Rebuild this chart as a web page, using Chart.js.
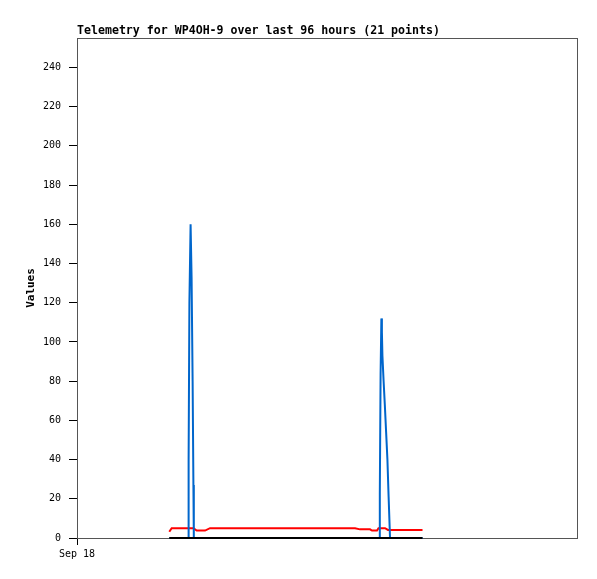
<!DOCTYPE html>
<html lang="en">
<head>
    <meta charset="UTF-8"/>
    <title>Telemetry for WP4OH-9</title>
    <script src="https://cdn.jsdelivr.net/npm/chart.js"></script>
    <style>
        html, body {
            margin: 0;
            padding: 0;
            background-color: #fff;
            width: 597px;
            height: 579px;
            overflow: hidden;
        }
        .chart-wrapper {
            position: relative;
            width: 597px;
            height: 579px;
        }
    </style>
</head>
<body>
<div class="chart-wrapper">
    <canvas id="telemetryChart"></canvas>
</div>

<script>
    // x values are hours since the start of Sep 18
    const chartTitle = 'Telemetry for WP4OH-9 over last 96 hours (21 points)';
    const yAxisLabel = 'Values';
    const xTickLabel = 'Sep 18';
    const yTickValues = [0, 20, 40, 60, 80, 100, 120, 140, 160, 180, 200, 220, 240];

    const blueHours = [17.76, 21.37, 21.43, 21.58, 21.81, 22.00, 22.20, 22.35, 22.43,
        58.06, 58.14, 58.29, 58.44, 58.54, 58.64, 58.85, 59.10, 59.35, 59.60, 59.83, 60.10, 66.34];
    const blueValues = [0, 0, 40, 120, 160, 133, 80, 27, 0,
        0, 23, 84, 112, 105, 93, 81, 68, 54, 40, 21, 0, 0];

    const redHours = [17.72, 18.18, 22.37, 22.98, 24.58, 25.54, 53.38, 54.34, 56.26, 56.64, 57.60, 57.89, 59.14, 59.71, 66.34];
    const redValues = [3.2, 5, 5, 3.8, 3.8, 5, 5, 4.4, 4.4, 3.8, 3.8, 5, 5, 4.1, 4.1];

    const blackHours = [17.72, 66.34];
    const blackValues = [0, 0];

    const toPoints = (xs, ys) => xs.map((x, i) => ({x: x, y: ys[i]}));

    const framePlugin = {
        id: 'frame',
        beforeDatasetsDraw(chart) {
            const {ctx, chartArea: a} = chart;
            ctx.save();
            ctx.strokeStyle = '#555';
            ctx.lineWidth = 1;
            ctx.strokeRect(a.left + 0.5, a.top + 0.5, a.right - a.left, a.bottom - a.top);
            ctx.restore();
        },
        afterDraw(chart) {
            const {ctx, chartArea: a} = chart;
            ctx.save();
            ctx.fillStyle = '#000';
            ctx.font = 'bold 11.6px "DejaVu Sans Mono", monospace';
            ctx.textAlign = 'left';
            ctx.textBaseline = 'alphabetic';
            ctx.fillText(chartTitle, a.left, 34);
            ctx.restore();
        }
    };

    const ctx = document.getElementById('telemetryChart').getContext('2d');

    const telemetryChart = new Chart(ctx, {
        type: 'line',
        data: {
            datasets: [
                {
                    label: 'black',
                    data: toPoints(blackHours, blackValues),
                    borderColor: '#000',
                    borderWidth: 2,
                    clip: false
                },
                {
                    label: 'blue',
                    data: toPoints(blueHours, blueValues),
                    borderColor: '#0066CC',
                    borderWidth: 2,
                    clip: false
                },
                {
                    label: 'red',
                    data: toPoints(redHours, redValues),
                    borderColor: '#FF0000',
                    borderWidth: 2,
                    clip: false
                }
            ]
        },
        options: {
            responsive: true,
            maintainAspectRatio: false,
            animation: false,
            layout: {
                padding: {top: 38, right: 20, bottom: 0, left: 0}
            },
            elements: {
                point: {radius: 0},
                line: {tension: 0}
            },
            scales: {
                x: {
                    type: 'linear',
                    min: 0,
                    max: 96,
                    afterBuildTicks: scale => { scale.ticks = [{value: 0}]; },
                    afterFit: scale => { scale.height = 41; },
                    grid: {
                        drawOnChartArea: false,
                        drawTicks: true,
                        tickLength: 7,
                        color: '#000'
                    },
                    border: {color: '#000', width: 1},
                    ticks: {
                        color: '#000',
                        padding: 3,
                        maxRotation: 0,
                        font: {family: '"DejaVu Sans Mono", monospace', size: 10},
                        callback: () => xTickLabel
                    }
                },
                y: {
                    min: 0,
                    max: 255,
                    afterBuildTicks: scale => { scale.ticks = yTickValues.map(v => ({value: v})); },
                    afterFit: scale => { scale.width = 77; },
                    grid: {
                        drawOnChartArea: false,
                        drawTicks: true,
                        tickLength: 8,
                        color: '#000'
                    },
                    border: {color: '#000', width: 1},
                    ticks: {
                        color: '#000',
                        padding: 8,
                        font: {family: '"DejaVu Sans Mono", monospace', size: 10}
                    },
                    title: {
                        display: true,
                        text: yAxisLabel,
                        color: '#000',
                        padding: {top: 25, bottom: 0},
                        font: {family: '"DejaVu Sans Mono", monospace', size: 11, weight: 'bold'}
                    }
                }
            },
            plugins: {
                legend: {display: false},
                tooltip: {enabled: false}
            }
        },
        plugins: [framePlugin]
    });
</script>
</body>
</html>
